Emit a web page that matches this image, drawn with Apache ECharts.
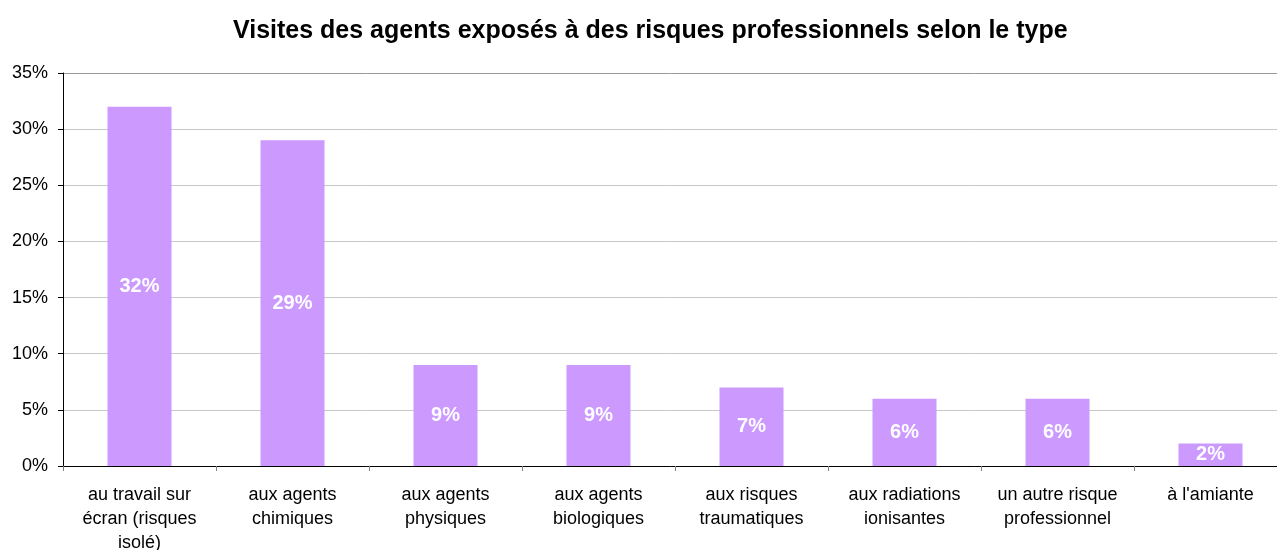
<!DOCTYPE html>
<html>
<head>
<meta charset="utf-8">
<script src="https://cdn.jsdelivr.net/npm/echarts@6/dist/echarts.min.js"></script>
<style>html,body{margin:0;padding:0;background:#fff;}#c{width:1277px;height:550px;}</style>
</head>
<body>
<div id="c"></div>
<script>
const titleText = "Visites des agents exposés à des risques professionnels selon le type";
const categories = [
  "au travail sur\nécran (risques\nisolé)",
  "aux agents\nchimiques",
  "aux agents\nphysiques",
  "aux agents\nbiologiques",
  "aux risques\ntraumatiques",
  "aux radiations\nionisantes",
  "un autre risque\nprofessionnel",
  "à l'amiante"
];
const values = [32, 29, 9, 9, 7, 6, 6, 2];
const yTicks = [0, 5, 10, 15, 20, 25, 30, 35];

const chart = echarts.init(document.getElementById('c'), null, {renderer: 'canvas'});
chart.setOption({
  animation: false,
  backgroundColor: '#ffffff',
  title: {
    text: titleText,
    left: 228,
    top: 14,
    textStyle: {fontFamily: 'Liberation Sans, Arial', fontSize: 25, fontWeight: 'bold', color: '#000'}
  },
  grid: {left: 63, top: 73, right: -10, bottom: 84, containLabel: false, outerBoundsMode: 'none'},
  xAxis: {
    type: 'category',
    data: categories,
    axisLine: {lineStyle: {color: '#000', width: 1}},
    axisTick: {show: true, length: 5, lineStyle: {color: '#808080'}},
    axisLabel: {
      fontFamily: 'Liberation Sans, Arial', fontSize: 18, color: '#000',
      lineHeight: 24, margin: 17, interval: 0
    }
  },
  yAxis: {
    type: 'value',
    min: yTicks[0],
    max: yTicks[yTicks.length - 1],
    interval: 5,
    axisLine: {show: true, lineStyle: {color: '#000', width: 1}},
    axisTick: {show: true, length: 5, lineStyle: {color: '#000'}},
    splitLine: {show: true, lineStyle: {color: ['#c8c8c8', '#c8c8c8', '#c8c8c8', '#c8c8c8', '#c8c8c8', '#c8c8c8', '#c8c8c8', '#999999'], width: 1}},
    axisLabel: {
      fontFamily: 'Liberation Sans, Arial', fontSize: 18, color: '#000', margin: 15,
      formatter: v => v + '%'
    }
  },
  series: [{
    type: 'bar',
    data: values,
    barWidth: 64,
    itemStyle: {color: '#CC99FF'},
    label: {
      show: true,
      position: 'inside',
      formatter: p => p.value + '%',
      fontFamily: 'Liberation Sans, Arial', fontSize: 20, fontWeight: 'bold', color: '#ffffff'
    }
  }]
});
</script>
</body>
</html>
